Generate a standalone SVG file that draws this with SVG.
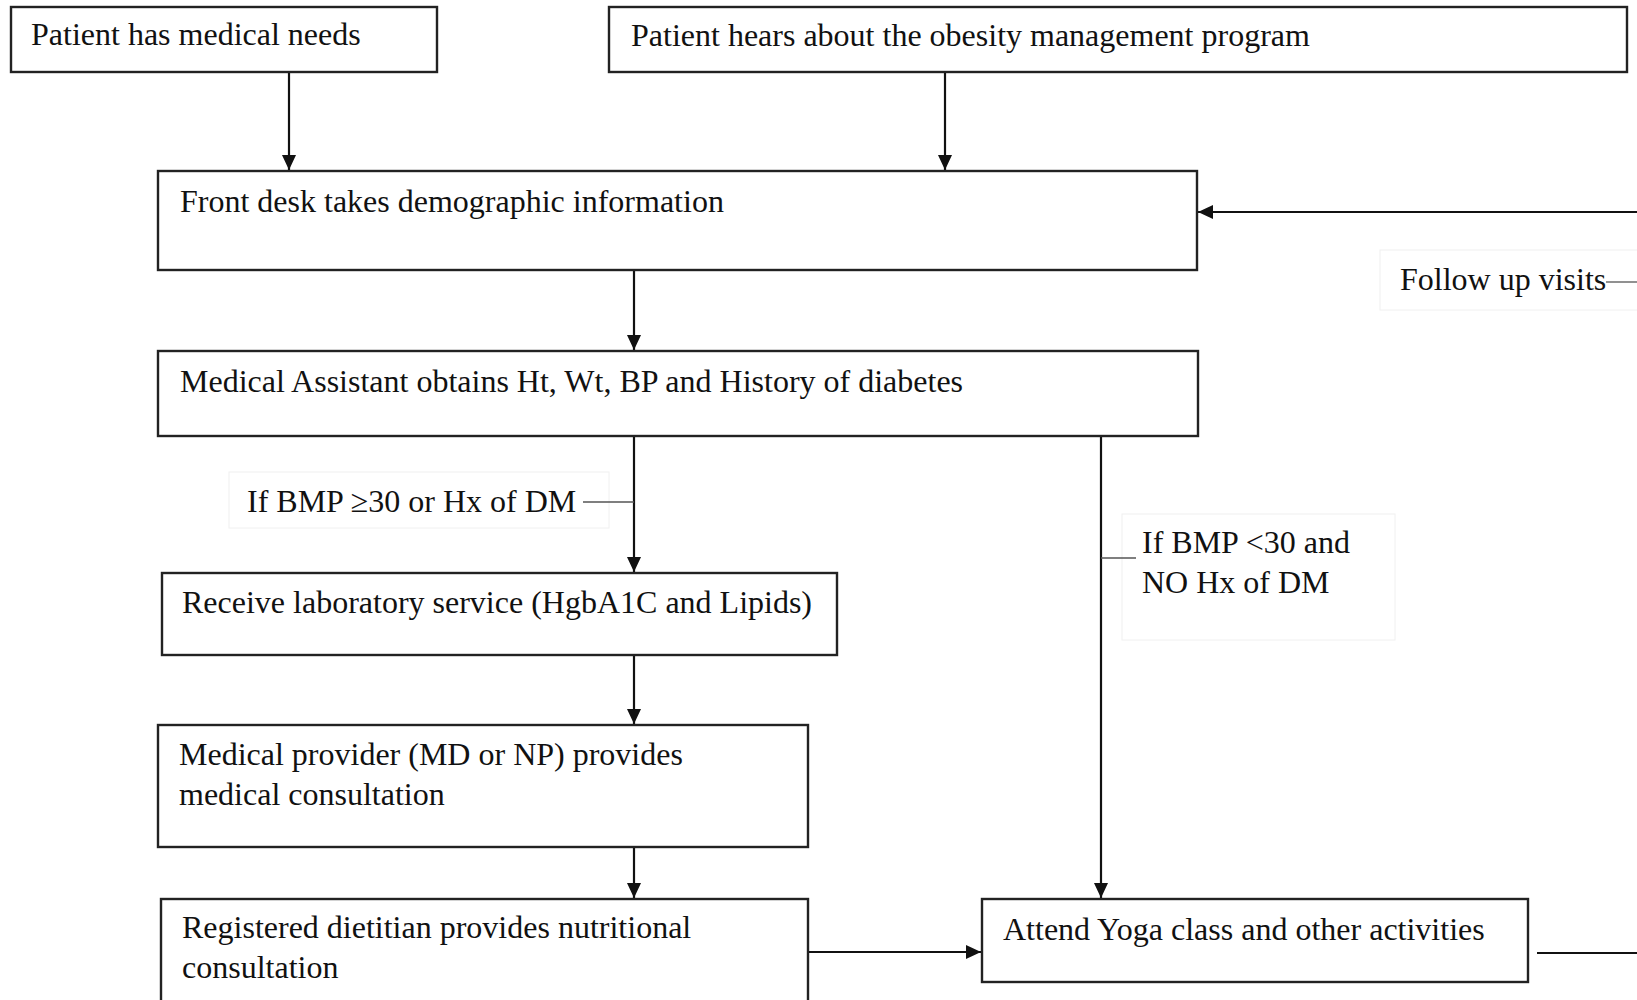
<svg xmlns="http://www.w3.org/2000/svg" width="1637" height="1000" viewBox="0 0 1637 1000">
  <style>
    .box { fill: #ffffff; stroke: #222222; stroke-width: 2.4; }
    .lbl { fill: #ffffff; stroke: #f0f0f0; stroke-width: 1; }
    .t { font-family: "Liberation Serif", "Times New Roman", serif; font-size: 32px; fill: #111111; }
    .c { fill: none; stroke: #111111; stroke-width: 2.2; }
    .tick { fill: none; stroke: #555555; stroke-width: 1.3; }
  </style>
  <defs>
    <marker id="ah" markerUnits="userSpaceOnUse" markerWidth="16" markerHeight="15" refX="15" refY="7" orient="auto">
      <path d="M0,0 L15,7 L0,14 z" fill="#111111"/>
    </marker>
  </defs>
  <rect width="1637" height="1000" fill="#ffffff"/>

  <g id="label-followup">
    <rect class="lbl" x="1380" y="250" width="270" height="60"/>
    <text class="t" x="1400" y="290">Follow up visits</text>
  </g>
  <g id="label-yes">
    <rect class="lbl" x="229" y="472" width="380" height="56"/>
    <text class="t" x="247" y="512">If BMP ≥30 or Hx of DM</text>
  </g>
  <g id="label-no">
    <rect class="lbl" x="1122" y="514" width="273" height="126"/>
    <text class="t" x="1142" y="553">If BMP &lt;30 and</text>
    <text class="t" x="1142" y="593">NO Hx of DM</text>
  </g>

  <g id="connectors">
    <line class="c" x1="289" y1="72" x2="289" y2="170" marker-end="url(#ah)"/>
    <line class="c" x1="945" y1="72" x2="945" y2="170" marker-end="url(#ah)"/>
    <line class="c" x1="634" y1="270" x2="634" y2="350" marker-end="url(#ah)"/>
    <line class="c" x1="634" y1="436" x2="634" y2="572" marker-end="url(#ah)"/>
    <line class="c" x1="634" y1="655" x2="634" y2="724" marker-end="url(#ah)"/>
    <line class="c" x1="634" y1="847" x2="634" y2="898" marker-end="url(#ah)"/>
    <line class="c" x1="808" y1="952" x2="981" y2="952" marker-end="url(#ah)"/>
    <line class="c" x1="1101" y1="436" x2="1101" y2="898" marker-end="url(#ah)"/>
    <line class="c" x1="1637" y1="212" x2="1198" y2="212" marker-end="url(#ah)"/>
    <line class="c" x1="1537" y1="953" x2="1637" y2="953"/>
    <line class="tick" x1="583" y1="502" x2="634" y2="502"/>
    <line class="tick" x1="1101" y1="558" x2="1136" y2="558"/>
    <line class="tick" x1="1606" y1="282" x2="1637" y2="282"/>
  </g>

  <g id="n1">
    <rect class="box" x="11" y="7" width="426" height="65"/>
    <text class="t" x="31" y="45">Patient has medical needs</text>
  </g>
  <g id="n2">
    <rect class="box" x="609" y="7" width="1018" height="65"/>
    <text class="t" x="631" y="46">Patient hears about the obesity management program</text>
  </g>
  <g id="n3">
    <rect class="box" x="158" y="171" width="1039" height="99"/>
    <text class="t" x="180" y="212">Front desk takes demographic information</text>
  </g>
  <g id="n4">
    <rect class="box" x="158" y="351" width="1040" height="85"/>
    <text class="t" x="180" y="392">Medical Assistant obtains Ht, Wt, BP and History of diabetes</text>
  </g>
  <g id="n5">
    <rect class="box" x="162" y="573" width="675" height="82"/>
    <text class="t" x="182" y="613">Receive laboratory service (HgbA1C and Lipids)</text>
  </g>
  <g id="n6">
    <rect class="box" x="158" y="725" width="650" height="122"/>
    <text class="t" x="179" y="765">Medical provider (MD or NP) provides</text>
    <text class="t" x="179" y="805">medical consultation</text>
  </g>
  <g id="n7">
    <rect class="box" x="161" y="899" width="647" height="115"/>
    <text class="t" x="182" y="938">Registered dietitian provides nutritional</text>
    <text class="t" x="182" y="978">consultation</text>
  </g>
  <g id="n8">
    <rect class="box" x="982" y="899" width="546" height="83"/>
    <text class="t" x="1003" y="940">Attend Yoga class and other activities</text>
  </g>
</svg>
